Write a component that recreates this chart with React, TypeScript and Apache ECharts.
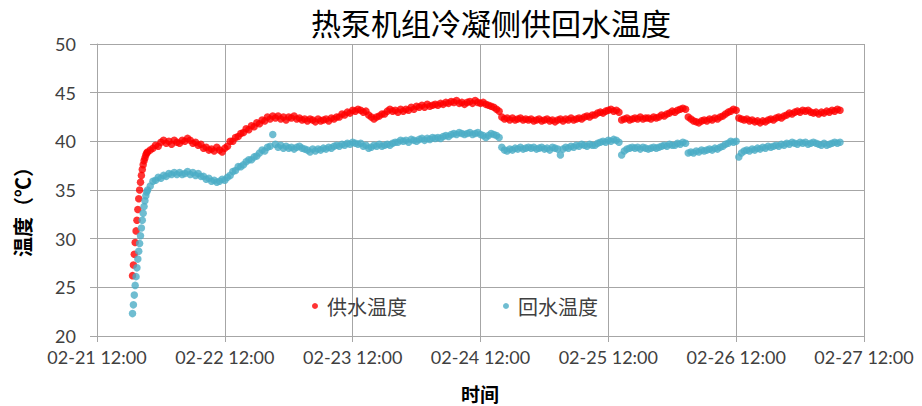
import { useEffect, useRef } from "react";
import * as echarts from "echarts";

// Chart texts
const TITLE = "热泵机组冷凝侧供回水温度";
const Y_NAME = "温度（℃）";
const X_NAME = "时间";
const SUPPLY_NAME = "供水温度";
const RETURN_NAME = "回水温度";

// X axis: hours since 02-21 12:00, one tick per day
const xTickLabels = [
  "02-21 12:00",
  "02-22 12:00",
  "02-23 12:00",
  "02-24 12:00",
  "02-25 12:00",
  "02-26 12:00",
  "02-27 12:00",
];
const X_TICK_HOURS = 24;
const Y_MIN = 20;
const Y_MAX = 50;
const Y_STEP = 5;

// Logger schedule: 10-minute readings during start-up, then every 30 minutes
const STARTUP_START_H = 6 + 40 / 60;
const STARTUP_STEP_H = 1 / 6;
const MAIN_START_H = 9.5;
const MAIN_STEP_H = 0.5;

// Supply water temperature (°C)
const supplyStartup = [
  26.2, 27.3, 28.4, 29.6, 30.8, 31.9, 33.0, 34.1, 35.0, 35.8, 36.5, 37.1,
  37.6, 38.0, 38.3, 38.6, 38.8,
];
const supplyMain = [
  38.9, 39.1, 39.3, 39.6, 39.5, 39.9, 40.1, 39.8, 40.0, 39.7, 40.1, 39.9,
  39.8, 40.1, 40.0, 40.3, 40.1, 39.8, 39.9, 39.6, 39.7, 39.3, 39.4, 39.1,
  39.2, 39.0, 39.4, 39.1, 38.9, 39.3, 39.5, 40.0, 40.0, 40.4, 40.5, 40.8,
  40.9, 41.3, 41.2, 41.6, 41.5, 41.9, 41.8, 42.2, 42.1, 42.5, 42.3, 42.6,
  42.4, 42.6, 42.3, 42.5, 42.2, 42.5, 42.4, 42.6, 42.3, 42.4, 42.2, 42.3,
  42.1, 42.3, 42.2, 42.0, 42.3, 42.1, 42.2, 42.3, 42.1, 42.4, 42.3, 42.5,
  42.5, 42.8, 42.7, 43.0, 42.9, 43.2, 43.1, 43.3, 43.2, 43.0, 43.1, 42.7,
  42.5, 42.3, 42.5, 42.6, 42.8, 42.8, 43.1, 43.3, 43.1, 43.2, 43.0, 43.3,
  43.1, 43.3, 43.2, 43.5, 43.3, 43.6, 43.5, 43.7, 43.5, 43.8, 43.6, 43.7,
  43.8, 43.7, 43.9, 43.8, 44.0, 43.9, 44.1, 44.0, 44.2, 43.9, 44.0, 43.8,
  44.0, 44.1, 43.9, 44.2, 44.0, 43.9, 44.0, 43.8, 43.7, 43.6, 43.5, 43.3,
  43.1, 42.5, 42.3, 42.4, 42.2, 42.4, 42.2, 42.3, 42.4, 42.2, 42.3, 42.2,
  42.3, 42.1, 42.2, 42.3, 42.1, 42.2, 42.3, 42.1, 42.2, 42.0, 42.2, 42.3,
  42.1, 42.3, 42.2, 42.4, 42.2, 42.3, 42.4, 42.3, 42.5, 42.6, 42.5, 42.7,
  42.7, 42.9, 43.0, 42.9, 43.1, 43.2, 43.3, 43.1, 43.2, 43.0, 42.2, 42.3,
  42.4, 42.2, 42.3, 42.4, 42.3, 42.5, 42.3, 42.4, 42.4, 42.3, 42.5, 42.4,
  42.5, 42.7, 42.6, 42.8, 42.9, 43.1, 43.0, 43.2, 43.3, 43.4, 43.3, 42.5,
  42.3, 42.1, 42.0, 41.9, 42.1, 42.2, 42.1, 42.3, 42.2, 42.4, 42.3, 42.5,
  42.6, 42.8, 43.0, 43.1, 43.3, 43.2, 42.4, 42.3, 42.2, 42.3, 42.1, 42.2,
  42.0, 42.1, 41.9, 42.1, 42.0, 42.2, 42.3, 42.2, 42.4, 42.5, 42.4, 42.6,
  42.7, 42.9, 42.8, 43.0, 43.1, 43.0, 43.2, 43.1, 43.2, 43.0, 42.9, 43.0,
  42.8, 43.0, 42.9, 43.1, 43.0, 43.2, 43.1, 43.3, 43.2,
];

// Return water temperature (°C)
const returnStartup = [
  22.3, 23.2, 24.2, 25.2, 26.1, 27.0, 27.9, 28.7, 29.5, 30.3, 31.1, 31.9,
  32.6, 33.3, 33.9, 34.4, 34.8,
];
const returnMain = [
  35.0, 35.4, 35.9, 36.0, 36.3, 36.2, 36.5, 36.4, 36.7, 36.6, 36.8, 36.6,
  36.8, 36.6, 36.7, 36.9, 36.6, 36.8, 36.5, 36.7, 36.4, 36.4, 36.1, 36.2,
  35.9, 36.0, 35.8, 35.9, 36.1, 36.0, 36.3, 36.5, 36.9, 37.0, 37.4, 37.4,
  37.6, 37.9, 38.1, 38.1, 38.4, 38.5, 38.8, 39.1, 39.0, 39.4, 39.5, 40.7,
  39.7, 39.4, 39.6, 39.3, 39.5, 39.3, 39.4, 39.2, 39.4, 39.5, 39.3, 39.2,
  39.1, 38.9, 39.2, 39.0, 39.2, 39.1, 39.3, 39.2, 39.4, 39.3, 39.5, 39.6,
  39.5, 39.7, 39.6, 39.8, 39.7, 39.9, 39.8, 39.7, 39.8, 39.5, 39.6, 39.3,
  39.4, 39.6, 39.5, 39.7, 39.5, 39.6, 39.7, 39.6, 39.8, 39.9, 39.9, 40.1,
  40.0, 40.1, 39.9, 40.2, 40.1, 40.0, 40.2, 40.3, 40.1, 40.3, 40.2, 40.4,
  40.3, 40.4, 40.3, 40.5, 40.6, 40.5, 40.7, 40.8, 40.7, 40.9, 40.8, 40.7,
  40.8, 40.9, 40.7, 40.8, 40.9, 40.7, 40.6, 40.4, 40.6, 40.8, 40.7, 40.6,
  40.4, 39.4, 39.1, 39.0, 39.2, 39.1, 39.3, 39.2, 39.4, 39.2, 39.3, 39.4,
  39.3, 39.4, 39.2, 39.3, 39.4, 39.2, 39.3, 39.1, 39.4, 39.3, 39.2, 38.6,
  39.2, 39.4, 39.3, 39.5, 39.4, 39.6, 39.5, 39.7, 39.6, 39.5, 39.7, 39.6,
  39.6, 39.8, 39.9, 40.0, 39.9, 40.1, 40.0, 40.2, 40.1, 39.9, 38.6, 39.0,
  39.2, 39.3, 39.4, 39.3, 39.4, 39.2, 39.4, 39.3, 39.2, 39.3, 39.4, 39.3,
  39.4, 39.5, 39.6, 39.5, 39.7, 39.6, 39.6, 39.8, 39.7, 39.9, 39.8, 38.8,
  38.9, 38.8, 39.0, 38.9, 39.1, 39.0, 39.1, 39.2, 39.1, 39.3, 39.2, 39.4,
  39.5, 39.7, 39.8, 40.0, 39.9, 40.0, 38.4, 38.8, 39.0, 39.1, 39.0, 39.2,
  39.1, 39.3, 39.2, 39.4, 39.3, 39.5, 39.4, 39.5, 39.6, 39.5, 39.7, 39.6,
  39.8, 39.7, 39.9, 39.8, 39.7, 39.9, 39.8, 39.9, 39.7, 39.8, 39.9, 39.8,
  39.7, 39.6, 39.8, 39.6, 39.7, 39.8, 39.9, 39.8, 39.9,
];

const SUPPLY_COLOR = "#ff0000";
const RETURN_COLOR = "#4bacc6";
const GRID_COLOR = "#a6a6a6";
const LABEL_COLOR = "#404040";
const CJK_FONT = '"Noto Sans CJK SC", "Noto Sans", sans-serif';
const NUM_FONT = 'Lato, "Liberation Sans", sans-serif';

function toPoints(startup: number[], main: number[]): [number, number][] {
  const pts: [number, number][] = [];
  startup.forEach((v, i) => pts.push([STARTUP_START_H + i * STARTUP_STEP_H, v]));
  main.forEach((v, i) => pts.push([MAIN_START_H + i * MAIN_STEP_H, v]));
  return pts;
}

export default function App() {
  const ref = useRef<HTMLDivElement>(null);

  useEffect(() => {
    document.body.style.margin = "0";
    if (!ref.current) return;
    const chart = echarts.init(ref.current, null, { renderer: "svg" });

    const maxH = (xTickLabels.length - 1) * X_TICK_HOURS;

    chart.setOption({
      animation: false,
      backgroundColor: "#ffffff",
      title: {
        text: TITLE,
        left: 306,
        top: 2,
        textStyle: {
          fontFamily: CJK_FONT,
          fontSize: 30,
          fontWeight: "normal",
          color: "#000000",
        },
      },
      legend: {
        left: 312,
        top: 296,
        padding: 0,
        itemWidth: 14,
        itemHeight: 6,
        itemGap: 96,
        icon: "circle",
        textStyle: { fontFamily: CJK_FONT, fontSize: 20, color: LABEL_COLOR },
        data: [SUPPLY_NAME, RETURN_NAME],
      },
      grid: { left: 97, right: 58, top: 44, bottom: 70, containLabel: false },
      xAxis: {
        type: "value",
        min: 0,
        max: maxH,
        interval: X_TICK_HOURS,
        axisLine: { show: true, lineStyle: { color: GRID_COLOR, width: 1 } },
        axisTick: { show: true, length: 6, lineStyle: { color: GRID_COLOR } },
        splitLine: { show: true, lineStyle: { color: GRID_COLOR, width: 1 } },
        axisLabel: {
          formatter: (v: number) => xTickLabels[Math.round(v / X_TICK_HOURS)] ?? "",
          color: LABEL_COLOR,
          fontFamily: NUM_FONT,
          fontSize: 18,
          margin: 12,
        },
      },
      yAxis: {
        type: "value",
        min: Y_MIN,
        max: Y_MAX,
        interval: Y_STEP,
        axisLine: { show: true, lineStyle: { color: GRID_COLOR, width: 1 } },
        axisTick: { show: true, length: 7, lineStyle: { color: GRID_COLOR } },
        splitLine: { show: true, lineStyle: { color: GRID_COLOR, width: 1 } },
        axisLabel: {
          color: LABEL_COLOR,
          fontFamily: NUM_FONT,
          fontSize: 18,
          margin: 21,
        },
      },
      graphic: [
        {
          type: "text",
          x: 22,
          y: 207,
          rotation: Math.PI / 2,
          style: {
            text: Y_NAME,
            fontFamily: CJK_FONT,
            fontSize: 20,
            fontWeight: "bold",
            fill: "#000000",
            align: "center",
            verticalAlign: "middle",
            textAlign: "center",
            textVerticalAlign: "middle",
          },
        },
        {
          type: "text",
          x: 480,
          y: 393,
          style: {
            text: X_NAME,
            fontFamily: CJK_FONT,
            fontSize: 19,
            fontWeight: "bold",
            fill: "#000000",
            align: "center",
            verticalAlign: "middle",
            textAlign: "center",
            textVerticalAlign: "middle",
          },
        },
      ],
      series: [
        {
          name: SUPPLY_NAME,
          type: "scatter",
          symbol: "circle",
          symbolSize: 7.5,
          itemStyle: { color: SUPPLY_COLOR },
          data: toPoints(supplyStartup, supplyMain),
        },
        {
          name: RETURN_NAME,
          type: "scatter",
          symbol: "circle",
          symbolSize: 7.5,
          itemStyle: { color: RETURN_COLOR },
          data: toPoints(returnStartup, returnMain),
        },
      ],
    });

    return () => chart.dispose();
  }, []);

  return (
    <div
      ref={ref}
      style={{ position: "fixed", left: 0, top: 0, width: 922, height: 406 }}
    />
  );
}
